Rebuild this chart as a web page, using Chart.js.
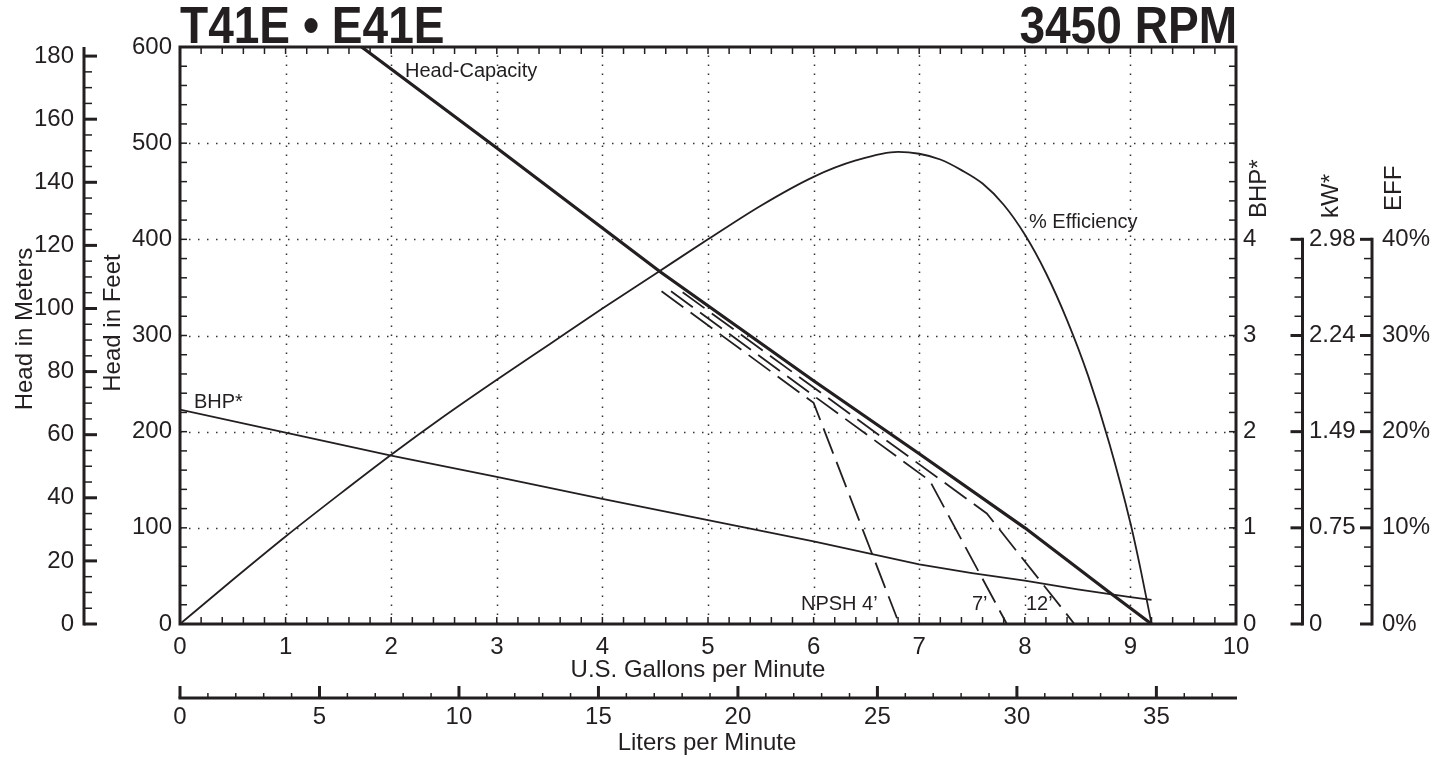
<!DOCTYPE html>
<html><head><meta charset="utf-8">
<script src="https://cdn.jsdelivr.net/npm/chart.js@4"></script>
<style>html,body{margin:0;padding:0;background:#fff}#wrap{width:1449px;height:761px;position:relative}</style>
</head><body><div id="wrap"><canvas id="c"></canvas></div>
<script>
// ---- tick labels ----
const gpmTicks = [0,1,2,3,4,5,6,7,8,9,10];
const feetTicks = [0,100,200,300,400,500,600];
const meterTicks = [0,20,40,60,80,100,120,140,160,180];
const bhpTicks = [0,1,2,3,4];
const kwTicks = ['0','0.75','1.49','2.24','2.98'];
const effTicks = ['0%','10%','20%','30%','40%'];
const literTicks = [0,5,10,15,20,25,30,35];

// ---- series ----
const headGpm = [1.72, 3, 4.55, 6, 7, 8, 8.8, 9.2];
const headFt  = [600, 495, 366, 253, 177, 100, 33, 0];

const effGpm = [0, 0.5, 1, 1.5, 2, 2.5, 3, 3.5, 4, 4.5, 5, 5.5, 6, 6.4, 6.8, 7.0, 7.2, 7.4, 7.6, 7.8, 8.0, 8.2, 8.4, 8.6, 8.8, 9.0, 9.1, 9.2];
const effPct = [0, 4.6, 9.1, 13.4, 17.6, 21.6, 25.4, 29.1, 32.8, 36.4, 40.0, 43.5, 46.5, 48.2, 49.1, 48.9, 48.3, 47.2, 45.8, 43.6, 40.5, 36.5, 31.6, 25.8, 18.8, 10.5, 5.5, 0];

const bhpGpm = [0, 1, 2, 3, 4, 5, 6, 6.5, 7, 7.5, 8, 8.5, 9, 9.2];
const bhpVal = [2.23, 1.99, 1.75, 1.53, 1.30, 1.08, 0.86, 0.74, 0.62, 0.53, 0.45, 0.36, 0.28, 0.25];

const npsh4Gpm = [4.56, 6.0, 6.79];   const npsh4Ft = [346, 230, 6];
const npsh7Gpm = [4.65, 7.1, 7.83];   const npsh7Ft = [346, 149, 0];
const npsh12Gpm = [4.76, 7.64, 8.47]; const npsh12Ft = [345, 115, 0];

const pts = (xs, ys) => xs.map((x, i) => ({x, y: ys[i]}));
const INK = '#231f20';
const FONT = '"Liberation Sans", Arial, Helvetica, sans-serif';

const baseLine = {pointRadius: 0, borderColor: INK, fill: false, tension: 0};

const axesPlugin = {
  id: 'pumpAxes',
  beforeDatasetsDraw(chart) {
    const {ctx, chartArea: a, scales: s} = chart;
    ctx.save();
    ctx.strokeStyle = '#333';
    ctx.lineWidth = 1.5;
    ctx.setLineDash([1.5, 7.5]);
    for (let g = 1; g <= 9; g++) {
      const x = Math.round(s.x.getPixelForValue(g)) + 0.5;
      ctx.beginPath(); ctx.moveTo(x, a.bottom); ctx.lineTo(x, a.top); ctx.stroke();
    }
    for (let f = 100; f <= 500; f += 100) {
      const y = Math.round(s.yFt.getPixelForValue(f)) + 0.5;
      ctx.beginPath(); ctx.moveTo(a.left, y); ctx.lineTo(a.right, y); ctx.stroke();
    }
    ctx.restore();
  },
  afterDatasetsDraw(chart) {
    const {ctx, chartArea: a, scales: s} = chart;
    ctx.save();
    ctx.strokeStyle = INK; ctx.fillStyle = INK;
    const seg = (x1, y1, x2, y2, w) => { ctx.lineWidth = w; ctx.beginPath(); ctx.moveTo(x1, y1); ctx.lineTo(x2, y2); ctx.stroke(); };

    // plot frame
    ctx.lineWidth = 3;
    ctx.strokeRect(a.left, a.top, a.right - a.left, a.bottom - a.top);

    // minor ticks top/bottom every 0.2 gpm
    for (let i = 0; i <= 50; i++) {
      const x = s.x.getPixelForValue(i / 5);
      seg(x, a.bottom, x, a.bottom - 7, 1.5);
      seg(x, a.top, x, a.top + 7, 1.5);
    }
    // left ticks every 20 ft
    for (let i = 0; i <= 30; i++) {
      const y = s.yFt.getPixelForValue(i * 20);
      seg(a.left, y, a.left + 7, y, 1.5);
    }
    // right ticks every 0.2 BHP
    for (let i = 0; i <= 30; i++) {
      const y = s.yBHP.getPixelForValue(i / 5);
      seg(a.right - 7, y, a.right, y, 1.5);
    }

    ctx.font = '24px ' + FONT;
    ctx.textAlign = 'center'; ctx.textBaseline = 'middle';
    gpmTicks.forEach(g => ctx.fillText(String(g), s.x.getPixelForValue(g), 647));
    ctx.textAlign = 'right';
    feetTicks.forEach(f => ctx.fillText(String(f), 172, s.yFt.getPixelForValue(f)));

    // meters axis
    const mx = 84;
    seg(mx, s.yM.getPixelForValue(0) + 1.5, mx, s.yM.getPixelForValue(s.yM.max), 3);
    for (let m = 0; m <= 180; m += 5) {
      const y = s.yM.getPixelForValue(m);
      seg(mx, y, mx + (m % 20 === 0 ? 13 : 8), y, m % 20 === 0 ? 3 : 1.5);
    }
    ctx.textAlign = 'right';
    meterTicks.forEach(m => ctx.fillText(String(m), 74, s.yM.getPixelForValue(m)));

    // BHP labels
    ctx.textAlign = 'left';
    bhpTicks.forEach(b => ctx.fillText(String(b), 1243, s.yBHP.getPixelForValue(b)));

    // kW axis
    const kx = 1302.5, ex = 1372;
    seg(kx, s.yKW.getPixelForValue(0) + 1.5, kx, s.yKW.getPixelForValue(2.983) - 1.5, 3);
    for (let i = 0; i <= 20; i++) {
      const y = s.yKW.getPixelForValue(i / 5 * 0.7457);
      const major = i % 5 === 0;
      seg(kx - (major ? 12 : 8), y, kx, y, major ? 3 : 1.5);
    }
    ctx.textAlign = 'left';
    kwTicks.forEach(t => ctx.fillText(t, 1309, s.yKW.getPixelForValue(parseFloat(t))));
    // EFF axis
    seg(ex, s.yEFF.getPixelForValue(0) + 1.5, ex, s.yEFF.getPixelForValue(40) - 1.5, 3);
    for (let i = 0; i <= 20; i++) {
      const y = s.yEFF.getPixelForValue(i * 2);
      const major = i % 5 === 0;
      seg(ex - (major ? 12 : 8), y, ex, y, major ? 3 : 1.5);
    }
    effTicks.forEach(t => ctx.fillText(t, 1382, s.yEFF.getPixelForValue(parseFloat(t))));

    // liters axis
    const ly = 698;
    seg(s.xL.getPixelForValue(0) - 1.5, ly, a.right + 1, ly, 3);
    for (let l = 0; l <= 37; l++) {
      const x = s.xL.getPixelForValue(l);
      seg(x, ly, x, ly - (l % 5 === 0 ? 12 : 5), l % 5 === 0 ? 3 : 1.5);
    }
    ctx.textAlign = 'center';
    literTicks.forEach(l => ctx.fillText(String(l), s.xL.getPixelForValue(l), 717));

    // axis titles
    ctx.textBaseline = 'alphabetic';
    ctx.fillText('U.S. Gallons per Minute', 698, 677);
    ctx.fillText('Liters per Minute', 707, 750);
    const vtext = (t, x, y, align) => {
      ctx.save(); ctx.translate(x, y); ctx.rotate(-Math.PI / 2);
      ctx.textAlign = align; ctx.textBaseline = 'middle'; ctx.fillText(t, 0, 0); ctx.restore();
    };
    vtext('Head in Meters', 25, 329, 'center');
    vtext('Head in Feet', 113, 323, 'center');
    vtext('BHP*', 1259, 218, 'left');
    vtext('kW*', 1331, 218, 'left');
    vtext('EFF', 1394, 211, 'left');

    // titles (slightly stretched vertically)
    ctx.font = 'bold 47px ' + FONT;
    ctx.textBaseline = 'alphabetic';
    ctx.save(); ctx.translate(180, 43); ctx.scale(0.98, 1.1);
    ctx.textAlign = 'left'; ctx.fillText('T41E \u2022 E41E', 0, 0);
    ctx.restore();
    ctx.save(); ctx.translate(1237, 43); ctx.scale(0.98, 1.1);
    ctx.textAlign = 'right'; ctx.fillText('3450 RPM', 0, 0);
    ctx.restore();

    // curve labels
    ctx.font = '20px ' + FONT;
    ctx.textAlign = 'left';
    ctx.fillText('Head-Capacity', 405, 77);
    ctx.fillText('% Efficiency', 1029, 228);
    ctx.fillText('BHP*', 194, 408);
    ctx.fillText('NPSH 4\u2019', 801, 610);
    ctx.fillText('7\u2019', 972, 610);
    ctx.fillText('12\u2019', 1026, 610);
    ctx.restore();
  }
};

new Chart(document.getElementById('c'), {
  type: 'line',
  data: {
    datasets: [
      {...baseLine, label: 'Head-Capacity', data: pts(headGpm, headFt), yAxisID: 'yFt', borderWidth: 3.2},
      {...baseLine, label: '% Efficiency', data: pts(effGpm, effPct), yAxisID: 'yEFF', borderWidth: 1.8, cubicInterpolationMode: 'monotone'},
      {...baseLine, label: 'BHP*', data: pts(bhpGpm, bhpVal), yAxisID: 'yBHP', borderWidth: 1.8},
      {...baseLine, label: 'NPSH 4\u2019', data: pts(npsh4Gpm, npsh4Ft), yAxisID: 'yFt', borderWidth: 1.8, borderDash: [27, 9]},
      {...baseLine, label: 'NPSH 7\u2019', data: pts(npsh7Gpm, npsh7Ft), yAxisID: 'yFt', borderWidth: 1.8, borderDash: [27, 9]},
      {...baseLine, label: 'NPSH 12\u2019', data: pts(npsh12Gpm, npsh12Ft), yAxisID: 'yFt', borderWidth: 1.8, borderDash: [27, 9]}
    ]
  },
  options: {
    responsive: true, maintainAspectRatio: false, animation: false, devicePixelRatio: 1,
    layout: {padding: {left: 180, top: 47, right: 213, bottom: 137}},
    plugins: {legend: {display: false}, tooltip: {enabled: false}},
    events: [],
    scales: {
      x: {type: 'linear', min: 0, max: 10, display: false},
      xL: {type: 'linear', axis: 'x', position: 'bottom', min: 0, max: 37.8541, display: false},
      yFt: {type: 'linear', position: 'left', min: 0, max: 600, display: false},
      yM: {type: 'linear', position: 'left', min: 0, max: 600 / 3.28084, display: false},
      yBHP: {type: 'linear', position: 'right', min: 0, max: 6, display: false},
      yKW: {type: 'linear', position: 'right', min: 0, max: 6 * 0.7457, display: false},
      yEFF: {type: 'linear', position: 'right', min: 0, max: 60, display: false}
    }
  },
  plugins: [axesPlugin]
});
</script>
</body></html>
